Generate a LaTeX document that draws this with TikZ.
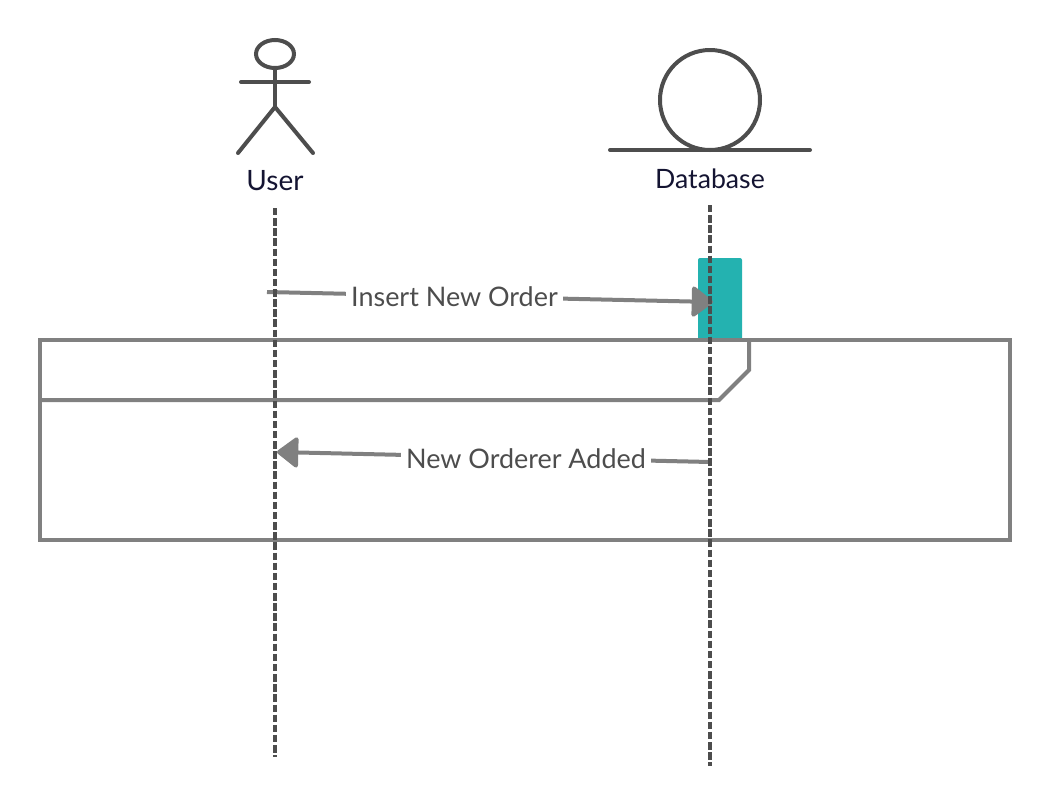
\documentclass[tikz,border=0pt]{standalone}
\usepackage{fontspec}
\setmainfont{Lato}
\definecolor{seqGray}{RGB}{128,128,128}
\definecolor{seqDark}{RGB}{77,77,77}
\definecolor{seqTeal}{RGB}{36,178,176}
\definecolor{seqNavy}{RGB}{20,20,50}
\usetikzlibrary{arrows.meta,positioning}

\begin{document}
\begin{tikzpicture}[
  x=0.75pt, y=-0.75pt,
  figure/.style={draw=seqDark, line width=3pt, line cap=round},
  lifeline/.style={draw=seqDark, line width=3.4pt, dash pattern=on 5.6pt off 2pt},
  frameline/.style={draw=seqGray, line width=3pt},
  msg/.style={draw=seqGray, line width=3pt, -{Triangle[length=17pt, width=25pt, round]}},
  msglabel/.style={fill=white, text=seqDark, font=\fontsize{20.2}{24}\selectfont, inner xsep=4pt, inner ysep=2pt},
  actorlabel/.style={text=seqNavy, font=\fontsize{20}{24}\selectfont, inner sep=0pt}
]
  \useasboundingbox (0,0) rectangle (1050,811);

  % activation bar
  \fill[seqTeal, rounded corners=1.5pt] (698,258) rectangle (742,340);

  % combined fragment
  \draw[frameline] (40,340) rectangle (1010,540);
  \draw[frameline] (40,400) -- (719,400) -- (749,370) -- (749,340);

  % user figure
  \draw[figure] (275,54) ellipse (19 and 14);
  \draw[figure] (275,68) -- (275,107);
  \draw[figure] (241,82) -- (309,82);
  \draw[figure] (238,153) -- (275,107) -- (313,153);
  \node[actorlabel, font=\fontsize{21}{25}\selectfont] (user) at (275,181) {User};

  % database figure
  \draw[figure] (710,100) circle (50);
  \draw[figure] (610,150) -- (810,150);
  \node[actorlabel] (database) at (710,178.5) {Database};

  \coordinate (userTop)   at (275,208);
  \coordinate (userEnd)   at (275,757);
  \coordinate (dbTop)     at (710,205);
  \coordinate (dbEnd)     at (710,766);
  \coordinate (insertA)   at (267,292);
  \coordinate (insertB)   at (713,302);
  \coordinate (addedA)    at (710,462);
  \coordinate (addedB)    at (277,452);

  % messages
  \draw[msg] (insertA) -- (insertB);
  \node[msglabel] (insert) at (454.5,297) {Insert New Order};
  \draw[msg] (addedA) -- (addedB);
  \node[msglabel] (added) at (526,458.5) {New Orderer Added};

  % lifelines
  \draw[lifeline] (userTop) -- (userEnd);
  \draw[lifeline] (dbTop) -- (dbEnd);
\end{tikzpicture}
\end{document}
